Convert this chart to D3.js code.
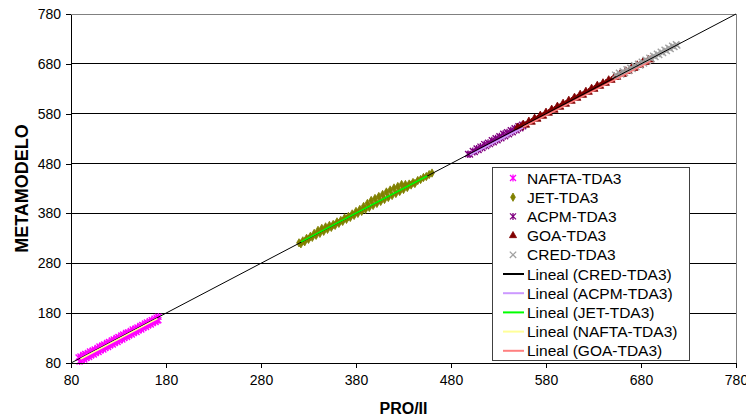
<!DOCTYPE html>
<html>
<head>
<meta charset="utf-8">
<script src="https://cdn.jsdelivr.net/npm/d3@7"></script>
<style>
  body { margin: 0; background: #fff; }
  svg { display: block; font-family: Arial, "Liberation Sans", sans-serif; }
</style>
</head>
<body>
<svg id="chart"></svg>
<script>
// Data: [PRO/II, METAMODELO]
const naftaPts = [
  [88,91],[90,93],[93,96],[95,98],[98,100],[100,103],[103,105],[105,107],[108,110],[110,113],
  [113,115],[115,117],[118,120],[120,122],[123,125],[125,127],[128,130],[130,132],[133,135],[135,137],
  [138,140],[140,141],[143,144],[145,147],[148,149],[150,151],[153,154],[155,156],[158,159],[160,161],
  [163,164],[165,166],[168,169],[170,171],[172,173],
  [89,83],[91,85],[94,87],[96,90],[99,92],[101,95],[104,97],[106,100],[109,102],[111,105],
  [114,107],[116,110],[119,112],[121,115],[124,117],[126,120],[129,122],[131,125],[134,127],[136,130],
  [139,132],[141,135],[144,137],[146,140],[149,142],[151,145],[154,147],[156,150],[159,152],[161,155],
  [164,157],[166,160],[169,162],[171,165],[172,166]
];
const jetPts = [
  [320,321],[322,319],[324,325],[326,323],[328,330],[330,328],[332,334],[334,332],[336,340],[338,336],
  [340,346],[342,340],[344,350],[346,344],[348,353],[350,348],[352,356],[354,352],[356,358],[358,356],
  [360,363],[362,360],[364,366],[366,364],[368,371],[370,368],[372,374],[374,372],[376,379],[378,376],
  [380,384],[382,380],[384,388],[386,384],[388,394],[390,388],[392,400],[394,392],[396,406],[398,396],
  [400,410],[402,400],[404,414],[406,404],[408,418],[410,408],[412,423],[414,412],[416,427],[418,416],
  [420,431],[422,420],[424,434],[426,424],[428,438],[430,428],[432,438],[434,432],[436,439],[438,437],
  [440,442],[442,440],[445,446],[448,448],[451,452],[454,454],[457,458],[460,461]
];
const acpmPts = [
  [498,499],[500,498],[503,505],[505,503],[507,510],[509,507],[511,514],[513,511],[515,519],[517,515],
  [519,522],[521,519],[523,527],[525,523],[527,531],[529,527],[531,535],[533,531],[535,540],[537,535],
  [539,543],[541,539],[543,547],[545,543],[547,551],[549,547],[551,555],[553,551],[555,558],[556,555]
];
const goaPts = [
  [550,553],[553,552],[556,559],[559,557],[562,565],[565,563],[568,571],[571,569],[574,577],[577,575],
  [580,583],[583,581],[586,589],[589,587],[592,595],[595,593],[598,601],[601,599],[604,607],[607,605],
  [610,613],[613,611],[616,619],[619,617],[622,625],[625,623],[628,631],[631,629],[634,637],[637,635],
  [640,642],[643,641],[646,648],[649,647],[652,654],[655,653],[658,660],[661,659],[664,666],[667,665],
  [670,672],[673,671],[676,678],[679,677],[682,684],[685,683],[688,689],[690,688]
];
const credPts = [
  [653,658],[655,655],[657,662],[659,659],[661,665],[663,662],[665,669],[667,666],[669,672],[671,670],
  [673,677],[675,674],[677,680],[679,677],[681,684],[683,681],[685,688],[687,686],[689,692],[691,690],
  [693,696],[695,694],[697,700],[699,698],[701,704],[703,702],[705,708],[707,706],[709,712],[711,710],
  [713,716],[715,714],[717,719],[718,717]
];

// Trendline end points [x0, y0, x1, y1]
const trendCred  = [80, 80, 780, 780];
const trendAcpm  = [500, 497, 556, 552];
const trendJet   = [322, 323, 455, 455];
const trendNafta = [90, 88, 171, 169];
const trendGoa   = [556, 553, 690, 685];

const tickValues = [80, 180, 280, 380, 480, 580, 680, 780];

const seriesNames = ['NAFTA-TDA3', 'JET-TDA3', 'ACPM-TDA3', 'GOA-TDA3', 'CRED-TDA3'];
const trendNames = ['Lineal (CRED-TDA3)', 'Lineal (ACPM-TDA3)', 'Lineal (JET-TDA3)', 'Lineal (NAFTA-TDA3)', 'Lineal (GOA-TDA3)'];

const width = 746, height = 420;
const margin = { top: 14, right: 10, bottom: 57, left: 71 };

const svg = d3.select('#chart')
  .attr('width', width)
  .attr('height', height)
  .attr('viewBox', `0 0 ${width} ${height}`);

const x = d3.scaleLinear().domain([80, 780]).range([margin.left, width - margin.right]);
const y = d3.scaleLinear().domain([80, 780]).range([height - margin.bottom, margin.top]);

// marker shapes
const asterisk = 'M-3,-3L3,3M-3,3L3,-3M0,-3.5L0,3.5';
const cross = 'M-3.2,-3.2L3.2,3.2M-3.2,3.2L3.2,-3.2';
const diamond = d3.symbol().type(d3.symbolDiamond).size(20)();
const triangle = d3.symbol().type(d3.symbolTriangle).size(22)();

const series = [
  { name: seriesNames[0], data: naftaPts, path: asterisk, color: '#ff00ff', stroke: true },
  { name: seriesNames[1], data: jetPts, path: diamond, color: '#808000', stroke: false },
  { name: seriesNames[2], data: acpmPts, path: asterisk, color: '#800080', stroke: true },
  { name: seriesNames[3], data: goaPts, path: triangle, color: '#800000', stroke: false },
  { name: seriesNames[4], data: credPts, path: cross, color: '#a0a0a0', stroke: true }
];
const trends = [
  { name: trendNames[0], seg: trendCred, color: '#000000' },
  { name: trendNames[1], seg: trendAcpm, color: '#cc99ff' },
  { name: trendNames[2], seg: trendJet, color: '#00ff00' },
  { name: trendNames[3], seg: trendNafta, color: '#ffff99' },
  { name: trendNames[4], seg: trendGoa, color: '#ff8080' }
];

// gridlines
svg.append('g')
  .selectAll('line')
  .data(tickValues.slice(1))
  .join('line')
  .attr('x1', x(80)).attr('x2', x(780))
  .attr('y1', d => y(d)).attr('y2', d => y(d))
  .attr('stroke', d => d === 780 ? '#808080' : '#000')
  .attr('stroke-width', 1)
  .attr('shape-rendering', 'crispEdges');

// right border
svg.append('line')
  .attr('x1', x(780)).attr('x2', x(780))
  .attr('y1', y(80)).attr('y2', y(780))
  .attr('stroke', '#808080')
  .attr('shape-rendering', 'crispEdges');

// points
series.forEach(s => {
  svg.append('g')
    .selectAll('path')
    .data(s.data)
    .join('path')
    .attr('transform', d => `translate(${x(d[0])},${y(d[1])})`)
    .attr('d', s.path)
    .attr('fill', s.stroke ? 'none' : s.color)
    .attr('stroke', s.color)
    .attr('stroke-width', s.stroke ? 1.4 : 0.8);
});

// trendlines
trends.forEach(t => {
  svg.append('line')
    .attr('x1', x(t.seg[0])).attr('y1', y(t.seg[1]))
    .attr('x2', x(t.seg[2])).attr('y2', y(t.seg[3]))
    .attr('stroke', t.color)
    .attr('stroke-width', t.color === '#000000' ? 1 : 1.6);
});

// axes
const xAxis = svg.append('g')
  .attr('transform', `translate(0,${y(80)})`)
  .call(d3.axisBottom(x).tickValues(tickValues).tickSize(5).tickPadding(7).tickSizeOuter(0));
const yAxis = svg.append('g')
  .attr('transform', `translate(${x(80)},0)`)
  .call(d3.axisLeft(y).tickValues(tickValues).tickSize(5).tickPadding(5).tickSizeOuter(0));
[xAxis, yAxis].forEach(a => {
  a.selectAll('path,line').attr('stroke', '#000').attr('shape-rendering', 'crispEdges');
  a.selectAll('text').attr('font-size', '14px').attr('fill', '#000')
    .attr('font-family', 'Arial, "Liberation Sans", sans-serif');
});

// axis titles
svg.append('text')
  .attr('x', (x(80) + x(780)) / 2)
  .attr('y', 414)
  .attr('text-anchor', 'middle')
  .attr('font-size', '16px')
  .attr('font-weight', 'bold')
  .text('PRO/II');

svg.append('text')
  .attr('transform', `translate(28,${(y(80) + y(780)) / 2}) rotate(-90)`)
  .attr('text-anchor', 'middle')
  .attr('font-size', '18px')
  .attr('font-weight', 'bold')
  .text('METAMODELO');

// legend
const legend = svg.append('g').attr('transform', 'translate(492,167)');
legend.append('rect')
  .attr('width', 197).attr('height', 193)
  .attr('fill', '#fff')
  .attr('stroke', '#404040')
  .attr('shape-rendering', 'crispEdges');

const rowH = 19.2;
series.forEach((s, i) => {
  const row = legend.append('g').attr('transform', `translate(0,${11 + i * rowH})`);
  row.append('path')
    .attr('transform', 'translate(21,0)')
    .attr('d', s.path)
    .attr('fill', s.stroke ? 'none' : s.color)
    .attr('stroke', s.color)
    .attr('stroke-width', s.stroke ? 1.3 : 0.8);
  row.append('text')
    .attr('x', 35).attr('y', 5.5)
    .attr('font-size', '15.5px')
    .text(s.name);
});
trends.forEach((t, i) => {
  const row = legend.append('g').attr('transform', `translate(0,${11 + (i + 5) * rowH})`);
  row.append('line')
    .attr('x1', 11).attr('x2', 32)
    .attr('stroke', t.color)
    .attr('stroke-width', 2);
  row.append('text')
    .attr('x', 35).attr('y', 5.5)
    .attr('font-size', '15.5px')
    .text(t.name);
});
</script>
</body>
</html>
